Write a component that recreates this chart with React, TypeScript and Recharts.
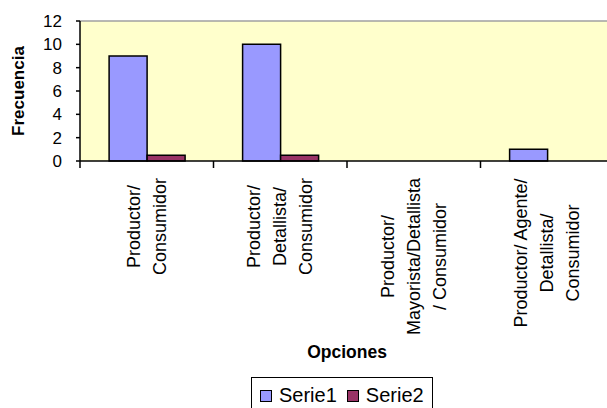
import React from 'react';
import { BarChart, Bar, XAxis, YAxis, CartesianGrid, ReferenceLine, Label } from 'recharts';

const categories = [
  'Productor/\nConsumidor',
  'Productor/\nDetallista/\nConsumidor',
  'Productor/\nMayorista/Detallista\n/ Consumidor',
  'Productor/ Agente/\nDetallista/\nConsumidor',
];
const serie1 = [9, 10, 0, 1];
const serie2 = [0.5, 0.5, 0, 0];
const yTicks = [0, 2, 4, 6, 8, 10, 12];
const seriesNames = ['Serie1', 'Serie2'];
const seriesColors = ['#9999FF', '#993366'];

const data = categories.map((name, i) => ({ name, Serie1: serie1[i], Serie2: serie2[i] }));

const FONT = '"Liberation Sans", Arial, sans-serif';

let ctx: CanvasRenderingContext2D | null = null;
function measure(text: string, size: number) {
  if (!ctx) ctx = document.createElement('canvas').getContext('2d');
  if (!ctx) return text.length * size * 0.5;
  ctx.font = `${size}px ${FONT}`;
  return ctx.measureText(text).width;
}

// multi-line rotated labels like the excel original, plus the tick marks between categories
const CategoryTick = (props: any) => {
  const { x, y, payload, index } = props;
  const half = payload.offset || 66.75;
  const lines = String(payload.value).split('\n');
  const maxW = Math.max(...lines.map((l) => measure(l, 18)));
  const axisY = y - 8;
  const cy = axisY + 17 + maxW / 2;
  const step = 26;
  return (
    <g>
      <line x1={x - half} x2={x - half} y1={axisY} y2={axisY + 7} stroke="#000" strokeWidth={1.5} />
      {index === categories.length - 1 && (
        <line x1={x + half} x2={x + half} y1={axisY} y2={axisY + 7} stroke="#000" strokeWidth={1.5} />
      )}
      {lines.map((l, i) => {
        const lx = x + (i - (lines.length - 1) / 2) * step;
        return (
          <text
            key={i}
            x={lx}
            y={cy}
            transform={`rotate(-90 ${lx} ${cy})`}
            textAnchor="middle"
            dominantBaseline="central"
            fontSize={18}
            fontFamily={FONT}
            fill="#000"
          >
            {l}
          </text>
        );
      })}
    </g>
  );
};

const YTitle = (props: any) => {
  const vb = props.viewBox;
  const cy = vb.y + vb.height / 2;
  return (
    <text
      x={18}
      y={cy}
      transform={`rotate(-90 18 ${cy})`}
      textAnchor="middle"
      dominantBaseline="central"
      fontSize={17}
      fontWeight="bold"
      fontFamily={FONT}
    >
      Frecuencia
    </text>
  );
};

const XTitle = (props: any) => {
  const vb = props.viewBox;
  return (
    <text
      x={vb.x + vb.width / 2}
      y={352}
      textAnchor="middle"
      dominantBaseline="central"
      fontSize={17.5}
      fontWeight="bold"
      fontFamily={FONT}
    >
      Opciones
    </text>
  );
};

export default function App() {
  return (
    <div style={{ position: 'absolute', left: 0, top: 0, width: 607, height: 408, overflow: 'hidden', background: '#fff', fontFamily: FONT }}>
      <BarChart
        width={620}
        height={408}
        data={data}
        margin={{ top: 21, right: 6, left: 0, bottom: 0 }}
        barCategoryGap="21.8%"
        barGap={0}
      >
        <CartesianGrid fill="#FFFFCC" horizontal={false} vertical={false} />
        <ReferenceLine y={12} stroke="#A0A0A0" strokeWidth={1.5} />
        <XAxis
          dataKey="name"
          height={247}
          interval={0}
          tickLine={false}
          tickSize={6}
          tickMargin={2}
          axisLine={{ stroke: '#000', strokeWidth: 1.5 }}
          tick={<CategoryTick />}
        >
          <Label content={<XTitle />} />
        </XAxis>
        <YAxis
          width={80}
          domain={[0, 12]}
          ticks={yTicks}
          interval={0}
          tickSize={4}
          tickMargin={14}
          tickLine={{ stroke: '#000', strokeWidth: 1.5 }}
          axisLine={{ stroke: '#000', strokeWidth: 1.5 }}
          tick={{ fill: '#000', fontSize: 17, fontFamily: FONT }}
        >
          <Label content={<YTitle />} />
        </YAxis>
        {seriesNames.map((s, i) => (
          <Bar key={s} dataKey={s} fill={seriesColors[i]} stroke="#000" strokeWidth={1.5} isAnimationActive={false} />
        ))}
      </BarChart>
      <div
        style={{
          position: 'absolute',
          left: 251,
          top: 377,
          width: 182,
          height: 40,
          border: '1px solid #000',
          display: 'flex',
          alignItems: 'flex-start',
          paddingTop: 6,
          paddingLeft: 8,
          boxSizing: 'border-box',
          fontSize: 20,
          lineHeight: '23px',
        }}
      >
        {seriesNames.map((s, i) => (
          <div key={s} style={{ display: 'flex', alignItems: 'center', marginRight: 10 }}>
            <span
              style={{
                display: 'inline-block',
                width: 10,
                height: 10,
                background: seriesColors[i],
                border: '1px solid #000',
                marginRight: 7,
              }}
            />
            <span>{s}</span>
          </div>
        ))}
      </div>
    </div>
  );
}
